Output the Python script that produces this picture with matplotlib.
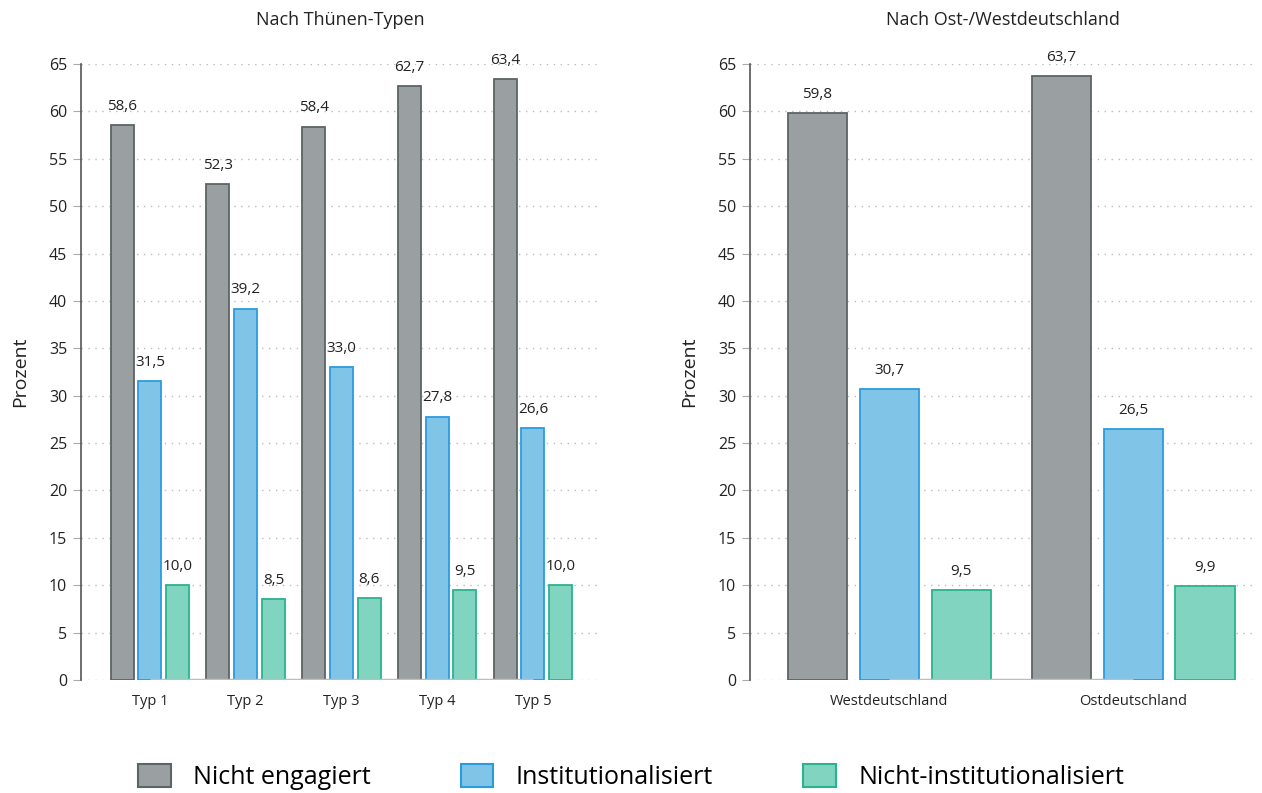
import numpy as np
import matplotlib
matplotlib.use("Agg")
import matplotlib.pyplot as plt
from matplotlib.patches import Patch

plt.rcParams['font.family'] = ['Open Sans', 'DejaVu Sans']

# data
typen = ["Typ 1", "Typ 2", "Typ 3", "Typ 4", "Typ 5"]
typ_nicht = [58.6, 52.3, 58.4, 62.7, 63.4]
typ_inst = [31.5, 39.2, 33.0, 27.8, 26.6]
typ_noninst = [10.0, 8.5, 8.6, 9.5, 10.0]

regionen = ["Westdeutschland", "Ostdeutschland"]
reg_nicht = [59.8, 63.7]
reg_inst = [30.7, 26.5]
reg_noninst = [9.5, 9.9]

serien = ["Nicht engagiert", "Institutionalisiert", "Nicht-institutionalisiert"]
fills = ["#9aa0a1", "#80c4e8", "#80d4c0"]
edges = ["#5c6466", "#2b9be0", "#2ab38e"]

fig = plt.figure(figsize=(12.62, 7.93), dpi=100)
ax1 = fig.add_axes([81/1262, 113/793, 519/1262, 616/793])
ax2 = fig.add_axes([750/1262, 113/793, 505/1262, 616/793])


def panel(ax, cats, vals, title, xlim, off, width):
    x = np.arange(len(cats))
    for i, v in enumerate(vals):
        pos = x + (i - 1) * off
        ax.bar(pos, v, width, color=fills[i], edgecolor=edges[i], linewidth=1.3, zorder=3)
        for px, val in zip(pos, v):
            ax.annotate(f"{val:.1f}".replace(".", ","), (px, val), xytext=(0, 8),
                        textcoords="offset points", ha="center", va="bottom",
                        fontsize=11, color="#222222")
    ax.plot([x[0], x[-1]], [0, 0], color="#bdbdbd", lw=2.5, zorder=4, solid_capstyle="butt")
    ax.set_xlim(*xlim)
    ax.set_ylim(0, 65)
    ax.set_yticks(range(0, 66, 5))
    ax.set_xticks(x)
    ax.set_xticklabels(cats, fontsize=10.5, color="#222222")
    ax.tick_params(axis="x", length=0, pad=10)
    ax.tick_params(axis="y", length=6, color="#aaaaaa", labelsize=11.5, labelcolor="#222222", pad=4)
    ax.grid(axis="y", linestyle=(0, (1, 4)), color="#bbbbbb", lw=1, zorder=0)
    for s in ["top", "right", "bottom"]:
        ax.spines[s].set_visible(False)
    ax.spines["left"].set_color("#555555")
    ax.spines["left"].set_linewidth(1.2)
    ax.set_ylabel("Prozent", fontsize=14, color="#222222", labelpad=14)
    ax.set_title(title, fontsize=13, color="#222222", pad=28)


panel(ax1, typen, [typ_nicht, typ_inst, typ_noninst], "Nach Thünen-Typen",
      (-0.72, 4.7), 0.29, 0.24)
panel(ax2, regionen, [reg_nicht, reg_inst, reg_noninst], "Nach Ost-/Westdeutschland",
      (-0.57, 1.5), 0.295, 0.242)

handles = [Patch(facecolor=fills[i], edgecolor=edges[i], linewidth=1.5) for i in range(3)]
fig.legend(handles, serien, loc="center", bbox_to_anchor=(0.5, 0.02), ncol=3, frameon=False,
           fontsize=18, handlelength=1.3, handleheight=1.0, columnspacing=3.6, handletextpad=0.9)

fig.savefig("out.png", dpi=100)
